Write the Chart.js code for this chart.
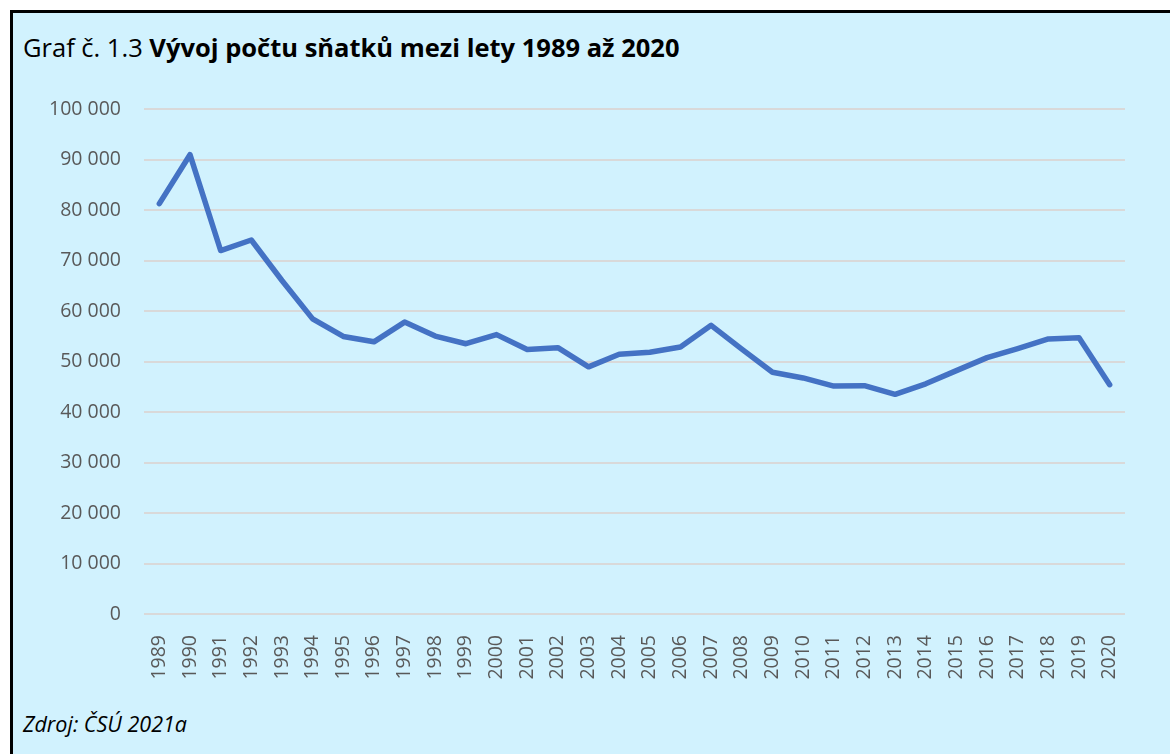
<!DOCTYPE html>
<html>
<head>
<meta charset="utf-8">
<script src="https://cdn.jsdelivr.net/npm/chart.js@4"></script>
<style>
  html, body { margin: 0; padding: 0; width: 1170px; height: 754px; overflow: hidden; background: #fff; }
  .frame { position: absolute; left: 10px; top: 10px; width: 1200px; height: 800px; border: 3px solid #000; background: #d1f2fe; }
  .title { position: absolute; left: 23px; top: 30px; font-family: "Open Sans", sans-serif; font-size: 25.5px; color: #000; white-space: nowrap; }
  .title b { font-weight: 700; }
  .source { position: absolute; left: 23px; top: 709px; font-family: "Open Sans", sans-serif; font-size: 21.5px; font-style: italic; color: #000; }
  #chart { position: absolute; left: 0; top: 0; }
</style>
</head>
<body>
<div class="frame"></div>
<div class="title">Graf č. 1.3 <b>Vývoj počtu sňatků mezi lety 1989 až 2020</b></div>
<div class="source">Zdroj: ČSÚ 2021a</div>
<canvas id="chart" width="1170" height="754"></canvas>
<script>
const years = ['1989', '1990', '1991', '1992', '1993', '1994', '1995', '1996', '1997', '1998', '1999', '2000',
  '2001', '2002', '2003', '2004', '2005', '2006', '2007', '2008', '2009', '2010', '2011', '2012',
  '2013', '2014', '2015', '2016', '2017', '2018', '2019', '2020'];
const marriages = [81262, 90953, 71973, 74060, 66033, 58440, 54956, 53896, 57804, 55027, 53523, 55321,
  52374, 52732, 48943, 51447, 51829, 52860, 57157, 52457, 47862, 46746, 45137, 45206,
  43499, 45575, 48191, 50768, 52567, 54470, 54721, 45415];
const yMin = 0;
const yMax = 100000;
const yStep = 10000;

const fmt = (v) => String(v).replace(/\B(?=(\d{3})+(?!\d))/g, ' ');

const ctx = document.getElementById('chart').getContext('2d');
new Chart(ctx, {
  type: 'line',
  data: {
    labels: years,
    datasets: [{
      data: marriages,
      borderColor: '#4472c4',
      borderWidth: 5.5,
      pointRadius: 0,
      tension: 0,
      borderCapStyle: 'round',
      borderJoinStyle: 'round',
      fill: false,
    }],
  },
  options: {
    responsive: false,
    animation: false,
    layout: { padding: { left: 0, right: 45, top: 109, bottom: 60 } },
    plugins: { legend: { display: false }, tooltip: { enabled: false } },
    scales: {
      x: {
        offset: true,
        grid: { display: false },
        border: { display: false },
        ticks: {
          color: '#595959',
          font: { family: 'Open Sans', size: 19.5 },
          minRotation: 90,
          maxRotation: 90,
          autoSkip: false,
          padding: 13,
        },
        afterFit: (scale) => { scale.height = 80; },
      },
      y: {
        min: yMin,
        max: yMax,
        grid: { color: '#d9d9d9', lineWidth: 2, drawTicks: false },
        border: { display: false },
        ticks: {
          stepSize: yStep,
          color: '#595959',
          font: { family: 'Open Sans', size: 19.5 },
          padding: 23,
          callback: (v) => fmt(v),
        },
        afterFit: (scale) => { scale.width = 144; },
      },
    },
  },
});
</script>
</body>
</html>
